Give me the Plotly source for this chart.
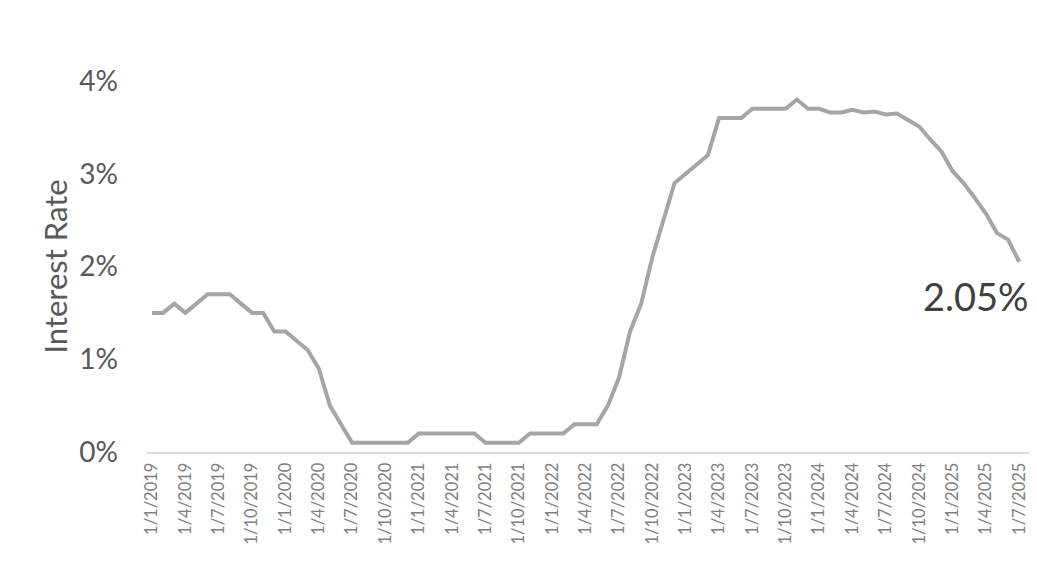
import plotly.graph_objects as go

months = []
for y in range(2019, 2026):
    for m in range(1, 13):
        if y == 2025 and m > 7:
            break
        months.append(f"1/{m}/{y}")

rates = [
    1.5, 1.5, 1.6, 1.5, 1.6, 1.7, 1.7, 1.7, 1.6, 1.5, 1.5, 1.3,
    1.3, 1.2, 1.1, 0.9, 0.5, 0.3, 0.1, 0.1, 0.1, 0.1, 0.1, 0.1,
    0.2, 0.2, 0.2, 0.2, 0.2, 0.2, 0.1, 0.1, 0.1, 0.1, 0.2, 0.2,
    0.2, 0.2, 0.3, 0.3, 0.3, 0.5, 0.8, 1.3, 1.6, 2.1, 2.5, 2.9,
    3.0, 3.1, 3.2, 3.6, 3.6, 3.6, 3.7, 3.7, 3.7, 3.7, 3.8, 3.7,
    3.7, 3.66, 3.66, 3.69, 3.66, 3.67, 3.64, 3.65, 3.58, 3.51, 3.37, 3.24,
    3.03, 2.9, 2.74, 2.57, 2.36, 2.29, 2.05,
]

x_idx = list(range(len(months)))
tick_idx = x_idx[::3]
tick_text = [months[i] for i in tick_idx]
y_ticks = [0, 1, 2, 3, 4]
y_tick_text = [f"{v}%" for v in y_ticks]
last_label = f"{rates[-1]:.2f}%"

FONT = "Lato"

fig = go.Figure()
fig.add_trace(go.Scatter(
    x=x_idx, y=rates, mode="lines",
    line=dict(color="#A5A5A5", width=4),
    hoverinfo="skip", cliponaxis=False,
))

fig.add_annotation(
    x=x_idx[-1], y=rates[-1], text=last_label, showarrow=False,
    xanchor="right", yanchor="middle", yshift=-34, xshift=12,
    font=dict(family=FONT, size=38, color="#404040"),
)

fig.update_layout(
    width=1029, height=545,
    margin=dict(l=139, r=0, t=73, b=101),
    paper_bgcolor="white", plot_bgcolor="white",
    showlegend=False,
    font=dict(family=FONT, color="#595959"),
    xaxis=dict(
        range=[-0.45, 79.6], automargin=False,
        tickmode="array", tickvals=tick_idx, ticktext=tick_text,
        tickangle=-90, tickfont=dict(size=16.5, color="#7F7F7F", family=FONT),
        showgrid=False, zeroline=False,
        showline=True, linecolor="#D9D9D9", linewidth=2,
        ticks="", ticklabelstandoff=2, ticklabeloverflow="allow",
    ),
    yaxis=dict(
        range=[0, 4], automargin=False,
        tickmode="array", tickvals=y_ticks, ticktext=y_tick_text,
        tickfont=dict(size=28, color="#595959", family=FONT),
        showgrid=False, zeroline=False, showline=False,
        ticks="", ticklabelstandoff=28,
        title=dict(text="Interest Rate", font=dict(size=31, color="#595959", family=FONT), standoff=2),
    ),
)

fig.write_html("out.html")
